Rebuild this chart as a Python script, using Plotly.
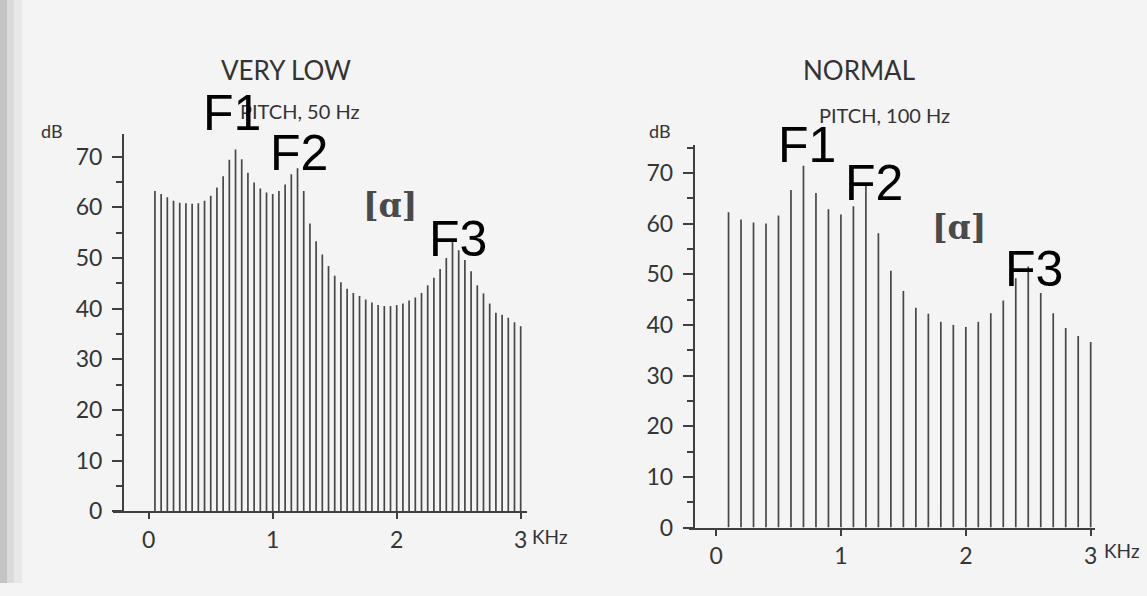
import plotly.graph_objects as go

W, H = 1147, 596

# Harmonic amplitudes (dB) of the vowel [ɑ]
very_low_f0_hz = 50
very_low_db = [
    63.2, 62.6, 62.0, 61.3, 60.9, 60.8, 60.7, 60.8, 61.3, 62.3,
    63.9, 66.1, 69.4, 71.4, 69.5, 66.8, 64.9, 63.7, 62.9, 62.6,
    63.2, 64.5, 66.5, 67.7, 63.2, 56.8, 53.3, 50.7, 48.4, 46.5,
    45.2, 43.9, 43.1, 42.5, 41.8, 41.2, 40.7, 40.5, 40.5, 40.7,
    41.0, 41.6, 42.2, 43.1, 44.6, 46.1, 47.8, 50.0, 53.5, 51.5,
    49.6, 47.4, 44.6, 43.0, 41.0, 39.2, 38.8, 38.2, 37.3, 36.5,
]

normal_f0_hz = 100
normal_db = [
    62.2, 60.8, 60.2, 60.0, 61.6, 66.6, 71.4, 66.0, 62.8, 61.8,
    63.4, 67.4, 58.1, 50.7, 46.7, 43.4, 42.2, 40.6, 40.0, 39.6,
    40.6, 42.3, 44.8, 49.2, 51.5, 46.3, 42.3, 39.4, 37.8, 36.6,
]

x_tick_vals = [0, 1, 2, 3]
x_tick_text = ["0", "1", "2", "3"]
y_tick_vals = [0, 10, 20, 30, 40, 50, 60, 70]
y_tick_text = ["0", "10", "20", "30", "40", "50", "60", "70"]


def px(x):
    return x / W


def py(y):
    return 1 - y / H


def stems(f0_hz, amps):
    xs, ys = [], []
    for i, a in enumerate(amps, start=1):
        f = i * f0_hz / 1000.0
        xs += [f, f, None]
        ys += [0, a, None]
    return xs, ys


INK = "#3f3f3f"
STEM = "#474747"
TICK_FONT = dict(family="Lato, 'DejaVu Sans', sans-serif", size=23, color="#353535")

fig = go.Figure()

lx, ly = stems(very_low_f0_hz, very_low_db)
fig.add_trace(go.Scatter(x=lx, y=ly, mode="lines", xaxis="x", yaxis="y",
                         line=dict(color=STEM, width=1.7), hoverinfo="skip",
                         showlegend=False))
rx, ry = stems(normal_f0_hz, normal_db)
fig.add_trace(go.Scatter(x=rx, y=ry, mode="lines", xaxis="x2", yaxis="y2",
                         line=dict(color=STEM, width=1.7), hoverinfo="skip",
                         showlegend=False))


def xaxis_cfg(dom, rng, anchor):
    return dict(domain=dom, range=rng, anchor=anchor, showgrid=False, zeroline=False,
                showline=True, linecolor=INK, linewidth=2.2,
                tickmode="array", tickvals=x_tick_vals, ticktext=x_tick_text,
                ticks="outside", ticklen=6, tickwidth=2, tickcolor=INK,
                tickfont=TICK_FONT, ticklabelstandoff=1)


def yaxis_cfg(dom, rng, pos):
    return dict(domain=dom, range=rng, anchor="free", position=pos,
                showgrid=False, zeroline=False,
                showline=True, linecolor=INK, linewidth=2.2,
                tickmode="array", tickvals=y_tick_vals, ticktext=y_tick_text,
                ticks="outside", ticklen=10, tickwidth=2.2, tickcolor=INK,
                minor=dict(dtick=5, ticks="outside", ticklen=6, tickwidth=2,
                           tickcolor=INK, showgrid=False),
                tickfont=TICK_FONT, ticklabelstandoff=5)


# left panel: 0 kHz at 149 px, 124.2 px per kHz; 0 dB at 522.7 px, 5.18 px per dB
fig.update_layout(
    xaxis=xaxis_cfg([px(113), px(528)], [(113 - 149) / 124.2, (528 - 149) / 124.2], "y"),
    yaxis=yaxis_cfg([py(522.7), py(137.3)], [0, (522.7 - 137.3) / 5.18], px(123.3)),
    xaxis2=xaxis_cfg([px(690), px(1097)], [(690 - 717.3) / 125.1, (1097 - 717.3) / 125.1], "y2"),
    yaxis2=yaxis_cfg([py(539.3), py(148.3)], [0, (539.3 - 148.3) / 5.18], px(695)),
)

TITLE_FONT = dict(family="Lato, 'DejaVu Sans', sans-serif", color="#333333")
F_FONT = dict(family="'Liberation Sans', Arial, sans-serif", size=50, color="#000000")
PH_FONT = dict(family="'DejaVu Serif', serif", size=33, color="#4a4a4a")

labels = [
    ("VERY LOW", 286, 72, dict(TITLE_FONT, size=26)),
    ("PITCH, 50 Hz", 300, 113, dict(TITLE_FONT, size=20)),
    ("dB", 52, 134, dict(TITLE_FONT, size=18)),
    ("NORMAL", 860, 72, dict(TITLE_FONT, size=26)),
    ("PITCH, 100 Hz", 886, 118, dict(TITLE_FONT, size=20)),
    ("dB", 661, 134, dict(TITLE_FONT, size=18)),
    ("<b>[ɑ]</b>", 391, 210, PH_FONT),
    ("<b>[ɑ]</b>", 961, 233, PH_FONT),
    ("F1", 232, 116, F_FONT),
    ("F2", 300, 156, F_FONT),
    ("F3", 459, 244, F_FONT),
    ("F1", 808, 148, F_FONT),
    ("F2", 876, 187, F_FONT),
    ("F3", 1036, 275, F_FONT),
]
anns = [dict(text=t, x=px(x), y=py(y), xref="paper", yref="paper",
             xanchor="center", yanchor="middle", showarrow=False, font=f)
        for t, x, y, f in labels]
anns += [
    dict(text="KHz", x=px(531), y=py(548), xref="paper", yref="paper",
         xanchor="left", yanchor="middle", showarrow=False, font=dict(TITLE_FONT, size=19)),
    dict(text="KHz", x=px(1104), y=py(563), xref="paper", yref="paper",
         xanchor="left", yanchor="middle", showarrow=False, font=dict(TITLE_FONT, size=19)),
]

# darker page gutter along the left edge
shapes = [
    dict(type="rect", xref="paper", yref="paper", x0=0, x1=px(7), y0=0, y1=1,
         fillcolor="#c4c4c4", line=dict(width=0), layer="below"),
    dict(type="rect", xref="paper", yref="paper", x0=px(7), x1=px(14), y0=0, y1=1,
         fillcolor="#dadada", line=dict(width=0), layer="below"),
    dict(type="rect", xref="paper", yref="paper", x0=px(14), x1=px(22), y0=0, y1=1,
         fillcolor="#e8e8e8", line=dict(width=0), layer="below"),
]

fig.update_layout(
    width=W, height=H, margin=dict(l=0, r=0, t=0, b=0),
    paper_bgcolor="#f4f4f4", plot_bgcolor="rgba(0,0,0,0)",
    annotations=anns, shapes=shapes, showlegend=False,
)

fig.write_html("out.html", config={"displayModeBar": False})
